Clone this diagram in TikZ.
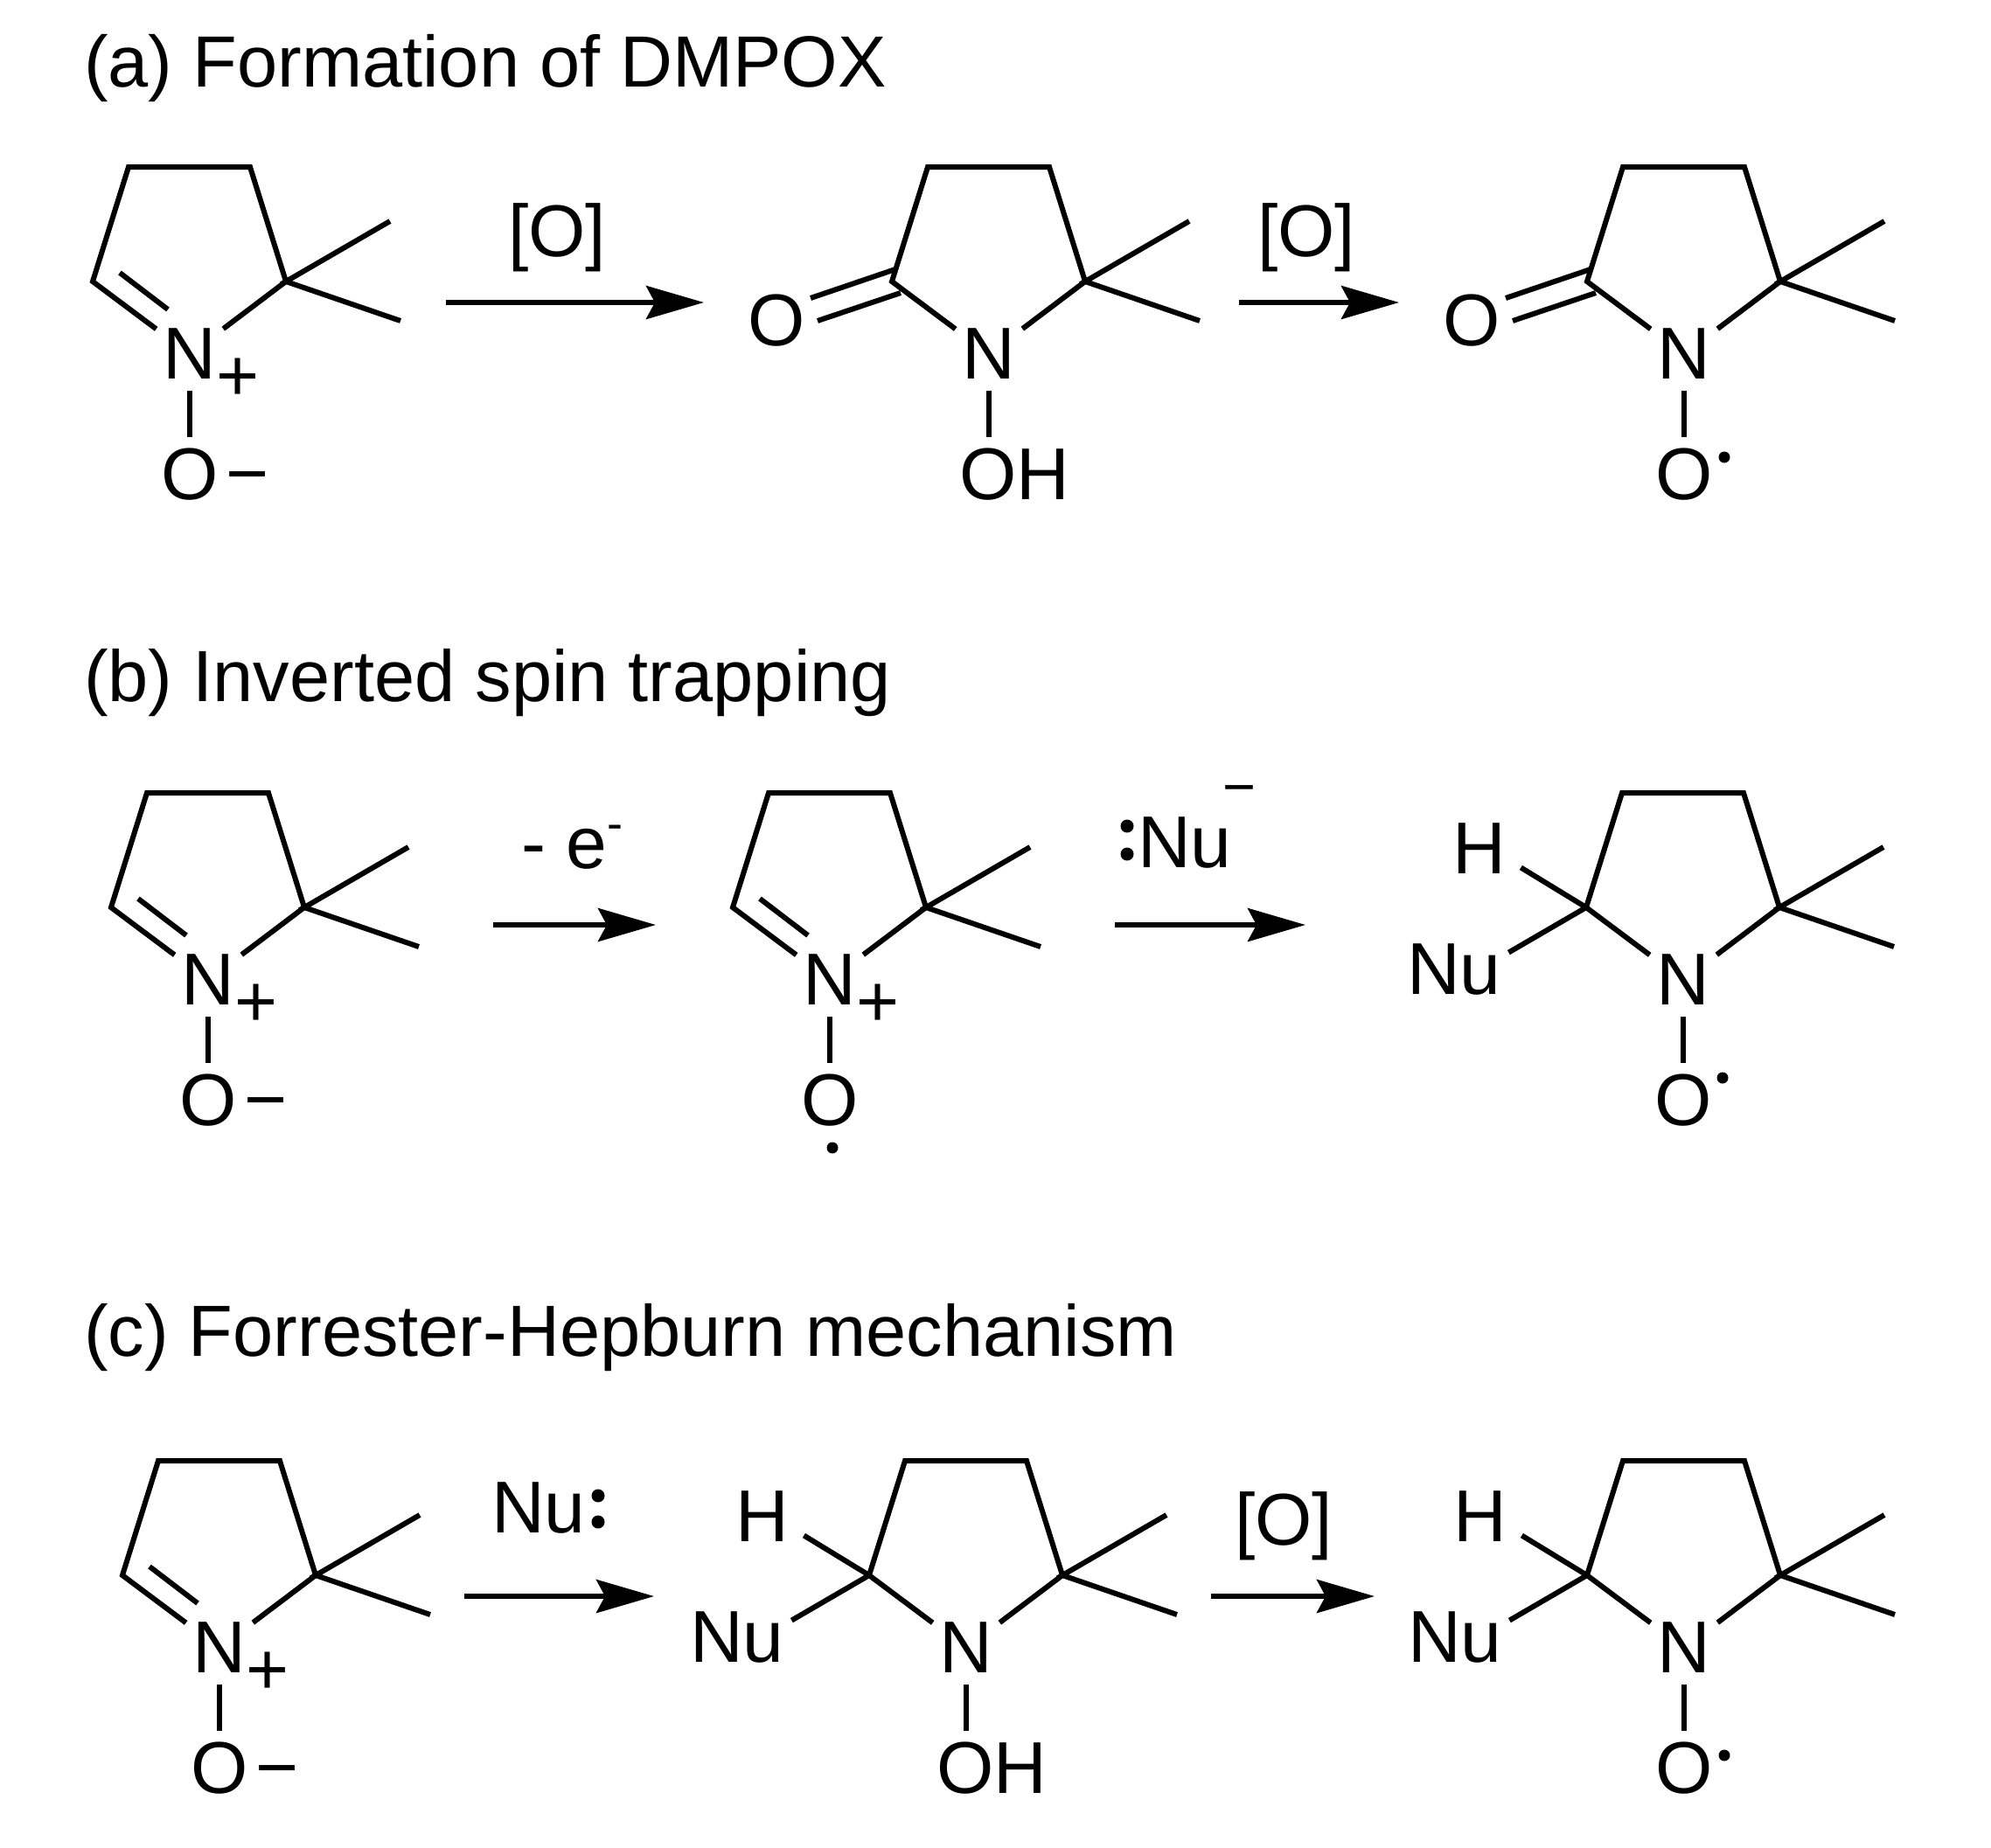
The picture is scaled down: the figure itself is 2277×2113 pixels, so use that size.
\documentclass[tikz,border=0pt]{standalone}
\usepackage{fontspec}
\setmainfont{Liberation Sans}
\usetikzlibrary{arrows.meta,positioning}
\newcommand{\chemfont}{\fontsize{84}{96}\selectfont}
\newcommand{\titlefont}{\fontsize{83}{96}\selectfont}
\tikzset{
  bond/.style={line width=6pt},
  gapbond/.style={bond,shorten <=13pt,shorten >=13pt},
  rxn/.style={line width=6pt,-{Stealth[length=66pt,width=38pt,inset=10pt]}},
  atom/.style={inner sep=0pt,outer sep=0pt,font=\chemfont},
  title/.style={inner sep=0pt,font=\titlefont,anchor=base west},
  dotmark/.style={circle,fill=black,inner sep=0pt,minimum size=13pt},
  lonepair/.style={circle,fill=black,inner sep=0pt,minimum size=15pt},
}
\begin{document}
\begin{tikzpicture}[x=1pt,y=-1pt]
  \useasboundingbox (0,0) rectangle (2277,2113);
  \node[title] (titlea) at (96,99) {(a) Formation of DMPOX};
  \node[title] (titleb) at (96,802) {(b) Inverted spin trapping};
  \node[title] (titlec) at (96,1551) {(c) Forrester-Hepburn mechanism};
  % the ring and the two methyls, common to all nine
  \foreach \nm/\px/\py in {a1/217/405,a2/1131/405,a3/1926/405,
    b1/238/1121,b2/949/1121,b3/1925/1121,
    c1/251/1885,c2/1105/1885,c3/1926/1885} {
    \begin{scope}[shift={(\px,\py)}]
      \node[atom] (\nm-n) at (0,0) {N};
      \coordinate (\nm-tl) at (-70,-214);
      \coordinate (\nm-tr) at (69,-214);
      \coordinate (\nm-cr) at (110,-83);
      \coordinate (\nm-cl) at (-111,-83);
      \coordinate (\nm-me1) at (229,-152);
      \coordinate (\nm-me2) at (241,-38);
    \end{scope}
    \draw[bond,shorten <=10pt,shorten >=10pt] (\nm-n) -- (\nm-cl) -- (\nm-tl) -- (\nm-tr) -- (\nm-cr) -- (\nm-n);
    \draw[bond] (\nm-me1) -- (\nm-cr) -- (\nm-me2);
  }
  % nitrone: C=N double bond and the N+
  \foreach \nm/\px/\py in {a1/217/405,b1/238/1121,b2/949/1121,c1/251/1885} {
    \begin{scope}[shift={(\px,\py)}]
      \coordinate (\nm-d1) at (-80,-93);
      \coordinate (\nm-d2) at (-25,-51);
      \node[atom] (\nm-plus) at (55,29) {+};
    \end{scope}
    \draw[bond] (\nm-d1) -- (\nm-d2);
  }
  % O and N-O bond
  \foreach \nm/\px/\py in {a1/217/405,a3/1926/405,b1/238/1121,b2/949/1121,b3/1925/1121,c1/251/1885,c3/1926/1885} {
    \node[atom] (\nm-o) at ([shift={(0,138)}]\px,\py) {O};
    \draw[gapbond] (\nm-n) -- (\nm-o);
  }
  \foreach \nm/\px/\py in {a2/1131/405,c2/1105/1885} {
    \node[atom] (\nm-oh) at ([shift={(29,138)}]\px,\py) {OH};
    \coordinate (\nm-ob) at ([shift={(0,95)}]\px,\py);
    \draw[bond,shorten <=13pt] (\nm-n) -- (\nm-ob);
  }
  % charges on the oxygen
  \foreach \nm/\px/\py in {a1/217/405,b1/238/1121,c1/251/1885} {
    \node[atom] (\nm-minus) at ([shift={(66,150)}]\px,\py) {−};
  }
  % radical dots
  \node[dotmark] (a3-dot) at (1972,523) {};
  \node[dotmark] (b3-dot) at (1970,1233) {};
  \node[dotmark] (c3-dot) at (1972,2008) {};
  \node[dotmark] (b2-dot) at (952,1313) {};
  % lactam C=O
  \foreach \nm/\px/\py in {a2/1131/405,a3/1926/405} {
    \begin{scope}[shift={(\px,\py)}]
      \node[atom] (\nm-co) at (-243,-38) {O};
      \coordinate (\nm-u1) at (-107,-97);
      \coordinate (\nm-u2) at (-204,-64);
      \coordinate (\nm-v1) at (-101,-70);
      \coordinate (\nm-v2) at (-196,-38);
    \end{scope}
    \draw[bond] (\nm-u1) -- (\nm-u2);
    \draw[bond] (\nm-v1) -- (\nm-v2);
  }
  % H and Nu on the ring carbon
  \foreach \nm/\px/\py in {b3/1925/1121,c2/1105/1885,c3/1926/1885} {
    \begin{scope}[shift={(\px,\py)}]
      \node[atom] (\nm-h) at (-233,-150) {H};
      \node[atom] (\nm-nu) at (-262,-12) {Nu};
    \end{scope}
    \draw[bond,shorten >=20pt] (\nm-cl) -- (\nm-h.-20);
    \draw[bond,shorten >=10pt] (\nm-cl) -- (\nm-nu.15);
  }
  % arrows
  \foreach \nm/\xa/\xb/\yy in {ra1/510/805/346,ra2/1417/1600/346,
    rb1/564/750/1058,rb2/1275/1493/1058,
    rc1/531/748/1826,rc2/1385/1572/1826} {
    \coordinate (\nm-s) at (\xa,\yy);
    \coordinate (\nm-e) at (\xb,\yy);
    \draw[rxn] (\nm-s) -- (\nm-e);
  }
  \node[atom] (ra1-lab) at (637,272) {[O]};
  \node[atom] (ra2-lab) at (1494,272) {[O]};
  \node[atom] (rc2-lab) at (1468,1746) {[O]};
  \node[atom,anchor=base west] (rb1-lab) at (596,993) {- e\raisebox{33pt}{\fontsize{54}{54}\selectfont -}};
  \node[atom,anchor=base west] (rb2-lab) at (1301,992) {Nu};
  \node[inner sep=0pt,font=\fontsize{65}{70}\selectfont] (rb2-minus) at (1417,911) {−};
  \node[lonepair] (rb2-p1) at (1289,945) {};
  \node[lonepair] (rb2-p2) at (1289,977) {};
  \node[atom,anchor=base west] (rc1-lab) at (562,1753) {Nu};
  \node[lonepair] (rc1-p1) at (684,1711) {};
  \node[lonepair] (rc1-p2) at (684,1741) {};
\end{tikzpicture}
\end{document}
